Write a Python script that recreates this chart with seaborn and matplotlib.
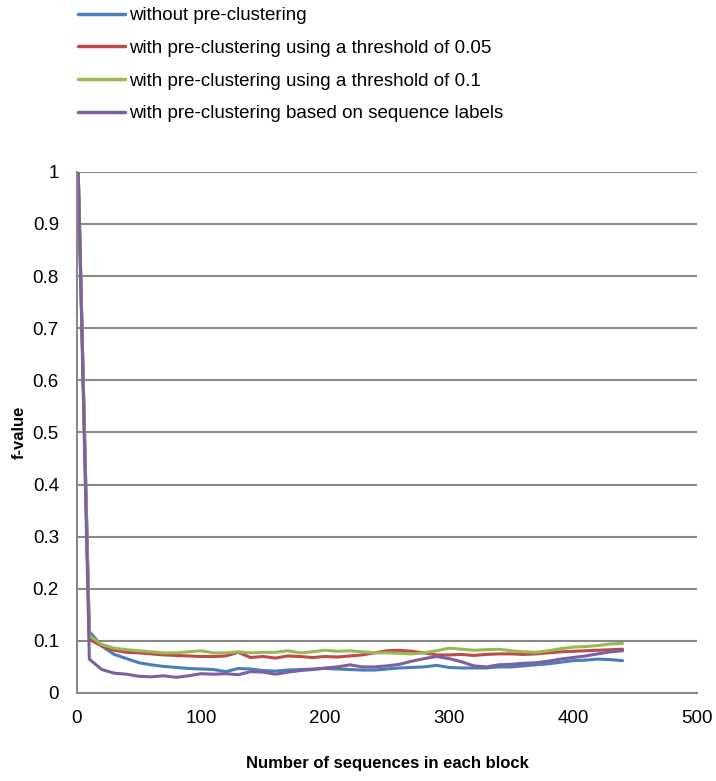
import numpy as np
import pandas as pd
import matplotlib
matplotlib.use("Agg")
import matplotlib.pyplot as plt
import seaborn as sns
from matplotlib.ticker import FuncFormatter

# x positions (number of sequences per block)
block_size = [1] + list(range(10, 450, 10))

without_pre = [1.0, 0.118, 0.090, 0.074, 0.066, 0.058, 0.054, 0.051, 0.049, 0.047,
               0.046, 0.045, 0.041, 0.047, 0.046, 0.043, 0.042, 0.044, 0.045, 0.046,
               0.047, 0.046, 0.045, 0.044, 0.044, 0.046, 0.048, 0.049, 0.050, 0.053,
               0.049, 0.048, 0.048, 0.048, 0.050, 0.050, 0.052, 0.054, 0.056, 0.059,
               0.062, 0.063, 0.065, 0.064, 0.062]
thresh_005 = [1.0, 0.103, 0.090, 0.082, 0.078, 0.077, 0.075, 0.073, 0.072, 0.071,
              0.070, 0.070, 0.071, 0.078, 0.068, 0.070, 0.067, 0.071, 0.070, 0.068,
              0.070, 0.069, 0.071, 0.073, 0.077, 0.081, 0.082, 0.080, 0.077, 0.073,
              0.073, 0.074, 0.072, 0.074, 0.075, 0.075, 0.074, 0.075, 0.077, 0.079,
              0.080, 0.081, 0.082, 0.083, 0.084]
thresh_01 = [1.0, 0.110, 0.093, 0.086, 0.083, 0.081, 0.079, 0.077, 0.077, 0.079,
             0.081, 0.077, 0.077, 0.079, 0.077, 0.078, 0.078, 0.081, 0.077, 0.079,
             0.082, 0.080, 0.081, 0.079, 0.077, 0.077, 0.076, 0.075, 0.077, 0.081,
             0.086, 0.084, 0.082, 0.083, 0.084, 0.081, 0.079, 0.078, 0.081, 0.085,
             0.088, 0.089, 0.091, 0.094, 0.095]
seq_labels = [1.0, 0.065, 0.045, 0.038, 0.036, 0.032, 0.031, 0.033, 0.030, 0.033,
              0.037, 0.036, 0.037, 0.035, 0.041, 0.040, 0.036, 0.040, 0.043, 0.045,
              0.048, 0.050, 0.054, 0.050, 0.050, 0.052, 0.055, 0.061, 0.066, 0.070,
              0.066, 0.060, 0.052, 0.050, 0.054, 0.055, 0.057, 0.058, 0.061, 0.065,
              0.068, 0.071, 0.075, 0.079, 0.081]

names = ["without pre-clustering",
         "with pre-clustering using a threshold of 0.05",
         "with pre-clustering using a threshold of 0.1",
         "with pre-clustering based on sequence labels"]
colors = ["#4A7EBB", "#BE4B48", "#98B954", "#7D60A0"]

frames = []
for name, vals in zip(names, [without_pre, thresh_005, thresh_01, seq_labels]):
    frames.append(pd.DataFrame({"size": block_size, "f": vals, "series": name}))
df = pd.concat(frames, ignore_index=True)

sns.set_style("white")
plt.rcParams["font.family"] = ["Liberation Sans", "DejaVu Sans"]
plt.rcParams["text.color"] = "black"
plt.rcParams["axes.labelcolor"] = "black"

fig = plt.figure(figsize=(7.16, 7.81), dpi=100)
ax = fig.add_axes([0.1075, 0.1127, 0.866, 0.6673])

sns.lineplot(data=df, x="size", y="f", hue="series", hue_order=names,
             palette=colors, linewidth=2.2, ax=ax, legend=False)

ax.set_xlim(0, 500)
ax.set_ylim(0, 1)
ax.set_xticks(range(0, 501, 100))
ax.set_yticks(np.arange(0, 1.01, 0.1))
ax.yaxis.set_major_formatter(FuncFormatter(lambda v, p: "%g" % round(v, 1)))
ax.grid(axis="y", color="#898989", linewidth=1.5)
ax.set_axisbelow(True)
for s in ["top", "right"]:
    ax.spines[s].set_visible(False)
for s in ["left", "bottom"]:
    ax.spines[s].set_color("#898989")
    ax.spines[s].set_linewidth(1.5)
ax.tick_params(axis="both", direction="out", length=5, width=1.5, color="#898989",
               labelsize=13.5, labelcolor="black")
ax.tick_params(axis="y", pad=8)
ax.tick_params(axis="x", pad=7)
ax.set_xlabel("Number of sequences in each block", fontsize=12, fontweight="bold",
              labelpad=21, color="black")
ax.set_ylabel("f-value", fontsize=12, fontweight="bold", labelpad=4, color="black")

handles = [plt.Line2D([], [], color=c, linewidth=2.5) for c in colors]
fig.legend(handles, names, loc="upper left", bbox_to_anchor=(0.1095, 0.991),
           frameon=False, fontsize=13.5, handlelength=2.5, handletextpad=0.2,
           labelspacing=0.83, borderpad=0, borderaxespad=0, labelcolor="black")

fig.savefig("out.png", dpi=100)
